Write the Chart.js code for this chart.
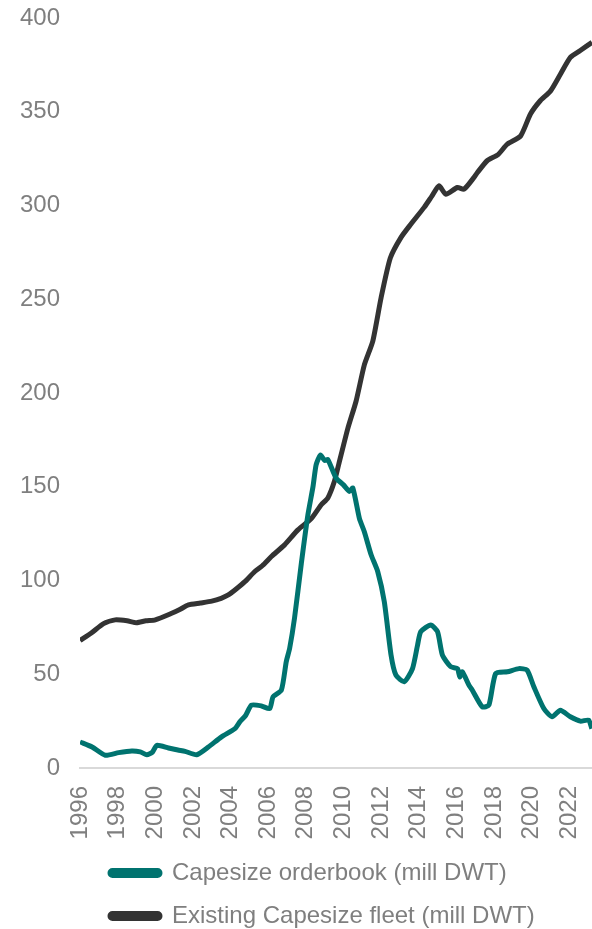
<!DOCTYPE html>
<html>
<head>
<meta charset="utf-8">
<script src="https://cdn.jsdelivr.net/npm/chart.js@4.4.1/dist/chart.umd.min.js"></script>
<style>
    html, body { margin: 0; padding: 0; background: #fff; overflow: hidden; }
    #wrap { width: 592px; height: 938px; position: relative; }
</style>
</head>
<body>
<div id="wrap"><canvas id="capeChart"></canvas></div>
<script>
// Values (decimal years, mill DWT)
const fleetYears = [1996.0, 1996.6, 1997.25, 1997.87, 1998.5, 1999.0, 1999.5, 2000.0, 2000.87, 2001.3,
    2001.76, 2002.4, 2003.0, 2003.5, 2003.88, 2004.3, 2004.76, 2005.29, 2005.7, 2006.17,
    2006.87, 2007.58, 2008.29, 2008.82, 2009.17, 2009.52, 2009.75, 2010.23, 2010.67, 2011.11,
    2011.56, 2012.0, 2012.49, 2013.06, 2013.58, 2014.29, 2014.7, 2015.08, 2015.44, 2016.06,
    2016.41, 2016.94, 2017.12, 2017.65, 2018.2, 2018.71, 2019.41, 2019.94, 2020.47, 2021.0,
    2021.53, 2022.06, 2022.59, 2023.21];
const fleetValues = [68, 72, 77, 79, 78.5, 77.5, 78.5, 79, 82.5, 84.5,
    87, 88, 89, 90.5, 92.3, 95.5, 99.4, 104.8, 108, 112.8,
    119, 127, 133, 140.4, 144, 152.9, 162, 181, 195.6, 215,
    227.7, 250.8, 272, 283, 290, 299, 305, 310.5, 306, 309.6,
    308.7, 315, 317.6, 324, 327, 332.7, 337, 348.8, 356, 361,
    370, 379, 382.7, 387];

const orderYears = [1996.0, 1996.64, 1997.34, 1998.05, 1998.75, 1999.2, 1999.55, 1999.85, 2000.08, 2000.7,
    2001.2, 2001.58, 2002.2, 2002.82, 2003.52, 2004.23, 2004.49, 2004.8, 2005.11, 2005.64,
    2006.08, 2006.26, 2006.7, 2006.96, 2007.14, 2007.4, 2007.76, 2008.11, 2008.38, 2008.55,
    2008.78, 2009.0, 2009.17, 2009.61, 2010.0, 2010.32, 2010.5, 2010.85, 2011.11, 2011.47,
    2011.82, 2012.17, 2012.53, 2012.79, 2013.23, 2013.67, 2013.94, 2014.11, 2014.64, 2015.0,
    2015.26, 2015.7, 2016.06, 2016.18, 2016.32, 2016.67, 2016.85, 2017.38, 2017.73, 2018.09,
    2018.71, 2019.32, 2019.76, 2020.12, 2020.65, 2021.09, 2021.53, 2022.06, 2022.59, 2023.03,
    2023.2];
const orderValues = [13.9, 11.2, 6.8, 8.2, 9.1, 8.6, 7.1, 8.5, 12.1, 10.7,
    9.6, 8.9, 7.1, 11.2, 16.6, 21, 24.6, 28, 33.5, 33.1,
    31.7, 38, 41.5, 56.7, 63.8, 80, 109, 135, 150, 161.8,
    167, 164, 164.5, 154.6, 151, 147.5, 149.3, 133, 126, 113.7,
    104.8, 88.7, 60.2, 49.5, 46, 53, 65.6, 72.7, 76.3, 72.7,
    60.2, 54, 53, 48.6, 51.3, 44.2, 41.5, 32.6, 33.5, 50.4,
    51.3, 53, 52.2, 43.3, 31.7, 27.3, 30.8, 27.3, 25, 25.5,
    21];

const yTicks = [0, 50, 100, 150, 200, 250, 300, 350, 400];
const xTicks = [1996, 1998, 2000, 2002, 2004, 2006, 2008, 2010, 2012, 2014, 2016, 2018, 2020, 2022];

const labelGrey = '#7f7f7f';
const font = { family: '"Liberation Sans", Arial, sans-serif', size: 24 };

function toPoints(xs, ys) {
    return xs.map((x, i) => ({ x: x, y: ys[i] }));
}

// legend rows in the original both start at x = 110
const legendIndent = {
    id: 'legendIndent',
    afterLayout(chart) {
        chart.legend.left = 91;
    }
};

function createChart() {
    const ctx = document.getElementById('capeChart').getContext('2d');
    new Chart(ctx, {
        type: 'line',
        data: {
            datasets: [{
                label: 'Capesize orderbook (mill DWT)',
                data: toPoints(orderYears, orderValues),
                borderColor: '#00736f',
                backgroundColor: '#00736f',
                borderWidth: 5,
                pointRadius: 0,
                tension: 0.2
            }, {
                label: 'Existing Capesize fleet (mill DWT)',
                data: toPoints(fleetYears, fleetValues),
                borderColor: '#333333',
                backgroundColor: '#333333',
                borderWidth: 5,
                pointRadius: 0,
                tension: 0.2
            }]
        },
        options: {
            responsive: true,
            maintainAspectRatio: false,
            animation: false,
            layout: { padding: { left: 0, right: 0, top: 18, bottom: 0 } },
            scales: {
                x: {
                    type: 'linear',
                    min: 1996,
                    max: 2023.21,
                    afterBuildTicks: scale => {
                        scale.ticks = xTicks.map(v => ({ value: v }));
                    },
                    afterFit: scale => {
                        // let the plot run to the right edge like the original
                        scale.paddingLeft = 0;
                        scale.paddingRight = 0;
                        scale.height = 74;
                    },
                    ticks: {
                        color: labelGrey,
                        font: font,
                        minRotation: 90,
                        maxRotation: 90,
                        padding: 18,
                        autoSkip: false,
                        callback: v => String(v)
                    },
                    grid: { display: false, drawTicks: false },
                    border: { display: true, color: '#d9d9d9', width: 2 }
                },
                y: {
                    min: 0,
                    max: 400,
                    afterBuildTicks: scale => {
                        scale.ticks = yTicks.map(v => ({ value: v }));
                    },
                    afterFit: scale => {
                        scale.paddingTop = 0;
                        scale.paddingBottom = 0;
                    },
                    ticks: {
                        color: labelGrey,
                        font: font,
                        padding: 20
                    },
                    grid: { display: false, drawTicks: false },
                    border: { display: false }
                }
            },
            plugins: {
                tooltip: { enabled: false },
                legend: {
                    position: 'bottom',
                    align: 'start',
                    labels: {
                        color: labelGrey,
                        font: font,
                        boxWidth: 50,
                        boxHeight: 5,
                        useBorderRadius: true,
                        borderRadius: 2.5,
                        padding: 19
                    }
                }
            }
        },
        plugins: [legendIndent]
    });
}

document.addEventListener('DOMContentLoaded', createChart);
</script>
</body>
</html>
